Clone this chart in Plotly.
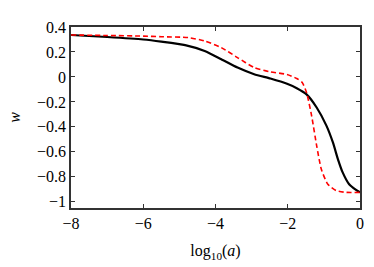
import plotly.graph_objects as go

x_black = [-8, -7, -6, -5.5, -4.84, -4.3, -3.84, -3.39, -2.93, -2.48, -2.02, -1.75, -1.48, -1.2, -0.93, -0.75, -0.61, -0.48, -0.30, -0.11, 0]
y_black = [0.336, 0.32, 0.30, 0.283, 0.255, 0.208, 0.142, 0.075, 0.022, -0.013, -0.055, -0.09, -0.14, -0.245, -0.39, -0.525, -0.66, -0.765, -0.86, -0.905, -0.925]

x_red = [-8, -7, -6, -5.5, -4.75, -4.3, -3.84, -3.39, -2.93, -2.48, -2.02, -1.75, -1.6, -1.48, -1.34, -1.2, -1.07, -0.89, -0.66, -0.38, 0]
y_red = [0.336, 0.332, 0.327, 0.322, 0.315, 0.288, 0.235, 0.155, 0.075, 0.04, 0.02, -0.013, -0.045, -0.125, -0.31, -0.55, -0.74, -0.86, -0.91, -0.925, -0.925]

x_tickvals = [-8, -6, -4, -2, 0]
x_ticktext = ["\u22128", "\u22126", "\u22124", "\u22122", "0"]
y_tickvals = [0.4, 0.2, 0, -0.2, -0.4, -0.6, -0.8, -1]
y_ticktext = ["0.4", "0.2", "0", "\u22120.2", "\u22120.4", "\u22120.6", "\u22120.8", "\u22121"]

fig = go.Figure()
fig.add_trace(go.Scatter(x=x_black, y=y_black, mode="lines",
                         line=dict(color="black", width=2.2, shape="spline", smoothing=0.6)))
fig.add_trace(go.Scatter(x=x_red, y=y_red, mode="lines",
                         line=dict(color="red", width=1.6, dash="5px,3px", shape="spline", smoothing=0.6)))

font = dict(family="'Liberation Serif', 'Times New Roman', serif", size=16, color="black")
axis_common = dict(showgrid=False, zeroline=False, showline=True, linecolor="#333",
                   linewidth=1.5, mirror="ticks", ticks="inside", ticklen=4,
                   tickcolor="#333", tickwidth=1, tickfont=font)
fig.update_layout(
    width=374, height=267,
    margin=dict(l=71, r=10, t=27, b=58),
    paper_bgcolor="white", plot_bgcolor="white",
    showlegend=False,
    font=font,
    xaxis=dict(range=[-8, 0], tickvals=x_tickvals, ticktext=x_ticktext,
               title=dict(text="log<sub>10</sub>(<i>a</i>)", font=font, standoff=14), **axis_common),
    yaxis=dict(range=[-1.05, 0.4], tickvals=y_tickvals, ticktext=y_ticktext,
               title=dict(text="<i>w</i>", font=font, standoff=12), **axis_common),
)
fig.write_html("out.html", config={"displayModeBar": False},
               post_script="document.body.style.margin='0';document.body.style.overflow='hidden';")
